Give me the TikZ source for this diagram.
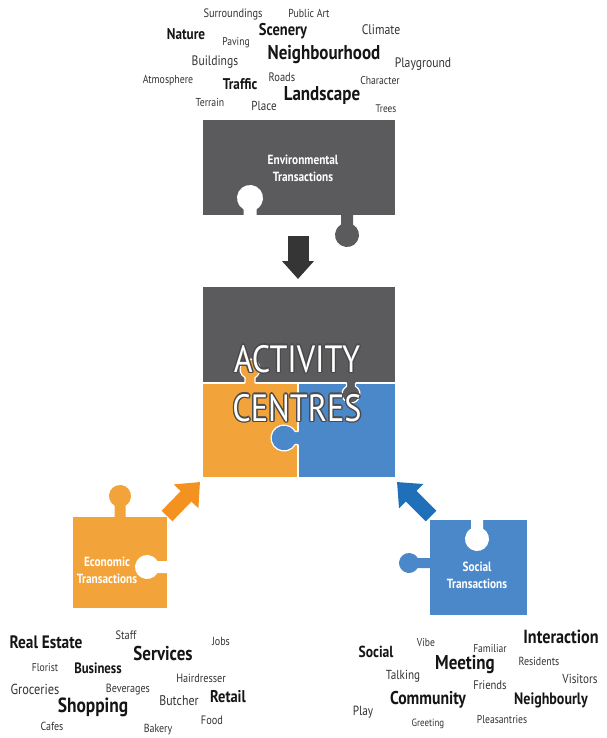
\documentclass[tikz,border=0pt]{standalone}
\usepackage{fontspec}
\setmainfont{PT Sans}[FakeStretch=0.85]
\usepackage{tikz}
\usetikzlibrary{arrows.meta, calc}
\definecolor{pieceGray}{HTML}{5B5B5D}
\definecolor{pieceOrange}{HTML}{F2A33A}
\definecolor{pieceBlue}{HTML}{4B88C9}
\definecolor{arrowDark}{HTML}{353535}
\definecolor{arrowOrange}{HTML}{F39220}
\definecolor{arrowBlue}{HTML}{1F70B8}
\definecolor{wordb}{HTML}{151515}
\definecolor{wordm}{HTML}{333333}
\definecolor{outlineGray}{HTML}{4A4A4A}

% white word with a thin dark rim, in one box
\newcommand{\rimShift}[3]{\rlap{\kern#1\raisebox{#2}{\textcolor{outlineGray}{#3}}}}
\newcommand{\rimWord}[1]{\leavevmode
  \rimShift{1.4pt}{0pt}{#1}\rimShift{-1.4pt}{0pt}{#1}%
  \rimShift{0pt}{1.4pt}{#1}\rimShift{0pt}{-1.4pt}{#1}%
  \rimShift{1pt}{1pt}{#1}\rimShift{-1pt}{1pt}{#1}%
  \rimShift{1pt}{-1pt}{#1}\rimShift{-1pt}{-1pt}{#1}%
  \textcolor{white}{#1}}

\tikzset{
  % tab of a jigsaw piece: centre x, centre y, direction, radius, distance to edge
  knob/.style n args={5}{insert path={
    ($(#1,#2)+({#3+180}:#5)+({#3-90}:{#4/2})$) -- ($(#1,#2)+({#3+210}:#4)$)
    arc[start angle={#3+210}, end angle={#3+510}, radius=#4]
    -- ($(#1,#2)+({#3+180}:#5)+({#3+90}:{#4/2})$)}},
  seam/.style={white, line width=1.2pt},
  pieceLabel/.style={text=white, font=\fontsize{13.3}{17}\selectfont\bfseries, align=center},
  bigWord/.style={font=\fontsize{38}{38}\selectfont},
  cloud/.style={anchor=mid, inner sep=0pt},
}

\begin{document}
\begin{tikzpicture}[x=1pt, y=-1pt]
  \fill[white] (0,0) rectangle (606,738);
  \useasboundingbox (0,0) rectangle (606,738);

  % word clouds
  \foreach \word/\x/\y/\sz/\wt [count=\i] in {
    Surroundings/233/15/12.2/m, Public Art/309/15/11.6/m, Scenery/283/33/17/b,
    Climate/381/32/13.8/m, Nature/186/37/15.5/b, Paving/236/43/11.3/m,
    Neighbourhood/324/57/20/b, Buildings/215/63/13.7/m, Playground/423/65/13.7/m,
    Atmosphere/168/81/11.6/m, Traffic/240/87/15.5/b, Roads/282/79/12.3/m,
    Character/380/82/11.4/m, Landscape/322/98/20/b, Terrain/210/104/11.5/m,
    Place/264/108/13/m, Trees/386/110/11/m}
    \node[cloud, text=word\wt, font={\fontsize{\sz}{\sz}\selectfont\if b\wt\bfseries\fi}] (env\i) at (\x,\y) {\word};

  \foreach \word/\x/\y/\sz/\wt [count=\i] in {
    Real Estate/46/646/18/b, Staff/126/637/12.2/m, Jobs/221/643/11.8/m,
    Services/163/658/20/b, Florist/45/669/11.4/m, Business/98/671/15/b,
    Hairdresser/201/680/12/m, Groceries/35/692/14.5/m, Beverages/128/690/11.9/m,
    Butcher/179/703/14/m, Retail/228/700/17/b, Shopping/93/710/20.5/b,
    Food/212/722/12.2/m, Cafes/52/728/11.7/m, Bakery/158/730/11.7/m}
    \node[cloud, text=word\wt, font={\fontsize{\sz}{\sz}\selectfont\if b\wt\bfseries\fi}] (eco\i) at (\x,\y) {\word};

  \foreach \word/\x/\y/\sz/\wt [count=\i] in {
    Vibe/426/644/11.3/m, Interaction/561/641/19/b, Social/376/655/16/b,
    Familiar/490/650/11.3/m, Meeting/465/667/20/b, Residents/539/663/11.7/m,
    Talking/403/677/13.1/m, Visitors/580/681/13.1/m, Friends/490/687/12.5/m,
    Community/428/702/18.5/b, Neighbourly/551/702/16.5/b, Play/363/713/13.3/m,
    Greeting/428/724/10.5/m, Pleasantries/502/721/11.4/m}
    \node[cloud, text=word\wt, font={\fontsize{\sz}{\sz}\selectfont\if b\wt\bfseries\fi}] (soc\i) at (\x,\y) {\word};

  % environmental piece
  \fill[pieceGray] (203,120) rectangle (395,215);
  \fill[white] [knob={250}{198}{-90}{13}{19}];
  \fill[pieceGray] [knob={347}{235}{90}{12}{22}];
  \node[pieceLabel] (envLabel) at (303,168) {Environmental\\Transactions};

  % economic piece
  \fill[pieceOrange] (73,517) rectangle (167,608);
  \fill[pieceOrange] [knob={120}{496}{-90}{11}{23}];
  \fill[white] [knob={147}{567}{180}{12}{22}];
  \node[pieceLabel] (econLabel) at (107,570) {Economic\\Transactions};

  % social piece
  \fill[pieceBlue] (430,520) rectangle (527,615);
  \fill[white] [knob={477}{539}{90}{12}{21}];
  \fill[pieceBlue] [knob={409}{563}{180}{10}{23}];
  \node[pieceLabel] (socialLabel) at (477,575) {Social\\Transactions};

  % activity centres
  \fill[pieceGray] (203,287) rectangle (395,383);
  \fill[pieceOrange] (203,383) rectangle (298,477);
  \fill[pieceBlue] (298,383) rectangle (395,477);
  \draw[seam] (203,383) -- (395,383) (298,383) -- (298,477);
  \fill[pieceOrange] [knob={250}{369}{-90}{10}{16}];
  \draw[seam] [knob={250}{369}{-90}{10}{14}];
  \fill[pieceGray] [knob={351}{394}{90}{9}{13}];
  \draw[seam] [knob={351}{394}{90}{9}{11}];
  \fill[pieceBlue] [knob={284}{438}{180}{13}{16}];
  \draw[seam] [knob={284}{438}{180}{13}{14}];

  \node[bigWord] (actTop) at (297,359) {\rimWord{ACTIVITY}};
  \node[bigWord] (actBottom) at (297,408) {\rimWord{CENTRES}};

  % arrows
  \coordinate (envTail) at (298,236);
  \coordinate (envTip) at (298,279);
  \coordinate (econTail) at (167,516);
  \coordinate (econTip) at (200,482);
  \coordinate (socTail) at (431,516);
  \coordinate (socTip) at (397,482);
  \draw[arrowDark, line width=21pt, -{Triangle[length=18pt, width=31pt]}] (envTail) -- (envTip);
  \draw[arrowOrange, line width=15pt, -{Triangle[length=20pt, width=33pt]}] (econTail) -- (econTip);
  \draw[arrowBlue, line width=15pt, -{Triangle[length=20pt, width=33pt]}] (socTail) -- (socTip);
\end{tikzpicture}
\end{document}
